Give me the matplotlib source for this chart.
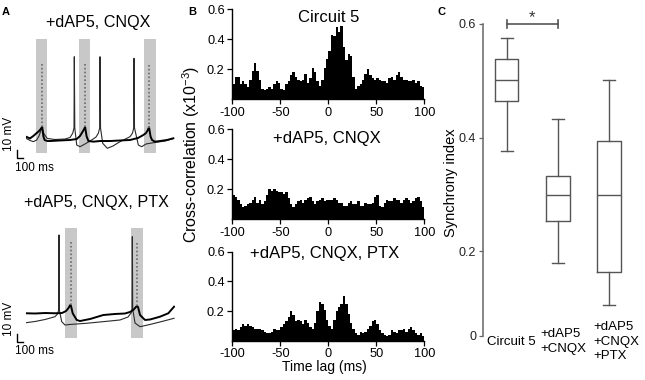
import numpy as np
import matplotlib
matplotlib.use('Agg')
import matplotlib.pyplot as plt
from matplotlib.transforms import ScaledTranslation

plt.rcParams['font.family'] = ['Liberation Sans', 'DejaVu Sans']
plt.rcParams['axes.unicode_minus'] = False
plt.rcParams['mathtext.fontset'] = 'custom'
plt.rcParams['mathtext.rm'] = 'Liberation Sans'
plt.rcParams['mathtext.it'] = 'Liberation Sans:italic'
plt.rcParams['mathtext.bf'] = 'Liberation Sans:bold'

# ---------------- Panel A data: time (ms), membrane potential (mV) ----------------
a1_title = '+dAP5, CNQX'
a1_windows = [(167, 355), (878, 1067), (1972, 2162)]
a1_thick_t = [0, 67, 122, 178, 217, 245, 270, 278, 290, 310, 355, 400, 567, 733, 845, 900, 928,
              960, 985, 995, 1010, 1040, 1122, 1233, 1400, 1567, 1733, 1867, 1955, 2000, 2030,
              2050, 2060, 2075, 2100, 2150, 2233, 2350, 2455]
a1_thick_v = [-63.4, -65.5, -62.5, -58.8, -56.3, -53.8, -51.0, -56.0, -63.0, -67.5, -68.8, -68.8,
              -68.1, -67.5, -66.3, -62.5, -59.1, -55.0, -51.3, -56.0, -63.0, -68.8, -69.6, -68.8,
              -68.8, -68.1, -67.5, -65.0, -61.3, -58.8, -55.0, -51.5, -56.0, -63.0, -67.5, -69.6,
              -68.8, -67.5, -65.4]
a1_spike_t = [270, 985, 2050]
a1_spike_base = [-51, -51, -52]
a1_spike_peak = [30.4, 28.4, 26.3]
a1_thin_t = [0, 67, 122, 178, 217, 245, 267, 300, 355, 483, 650, 733, 778, 800, 805, 813, 845, 900,
             983, 1095, 1167, 1205, 1228, 1233, 1242, 1278, 1355, 1450, 1567, 1733, 1775, 1795,
             1800, 1808, 1872, 1928, 2000, 2067, 2150, 2317, 2455]
a1_thin_v = [-65.4, -68.1, -69.6, -67.5, -62.5, -56.3, -52.5, -60, -65.6, -66.9, -66.3, -64.4,
             -59.1, -52.5, 36.6, -52.5, -73.8, -75.9, -72.5, -67.5, -63.8, -59.1, -52.5, 36.6,
             -52.5, -71.6, -77.9, -75, -69.6, -63.4, -58.8, -52.5, 34.6, -52.5, -73.8, -75.9,
             -72.5, -71.6, -70.6, -68.8, -65.6]

a2_title = '+dAP5, CNQX, PTX'
a2_windows = [(650, 845), (1750, 1945)]
a2_thick_t = [0, 150, 317, 483, 600, 667, 705, 738, 750, 778, 845, 900, 1067, 1288, 1483, 1650,
              1733, 1788, 1847, 1867, 1900, 1983, 2067, 2233, 2372, 2467]
a2_thick_v = [-59.1, -59.4, -58.8, -59.1, -58.8, -56.3, -52.9, -48.8, -50, -59.1, -67.5, -68.8,
              -66.3, -61.3, -60, -59.4, -57.5, -55, -50, -51.3, -61.3, -67.5, -66.9, -63.4,
              -59.1, -50.9]
a2_spike_t = [745, 1855]
a2_spike_base = [-49, -50]
a2_spike_peak = [30.4, 30.4]
a2_thin_t = [0, 150, 317, 483, 525, 545, 550, 555, 595, 650, 733, 1012, 1233, 1567, 1700, 1750,
             1767, 1772, 1778, 1817, 1900, 2067, 2233, 2467]
a2_thin_v = [-70.9, -69.4, -66.9, -63.4, -60, -55, 38.8, -55, -69.6, -73.8, -73.1, -71.6, -70,
             -67.5, -63.8, -58.8, -53.8, 36.6, -53.8, -71.3, -75.9, -73.1, -70, -65.4]

scale_mv = 10
scale_ms = 100

# ---------------- Panel B data: cross-correlation (x10^-3), 2.5 ms bins ----------------
lag_min, lag_max, lag_bin = -100, 100, 2.5
b_titles = ['Circuit 5', '+dAP5, CNQX', '+dAP5, CNQX, PTX']
cc_circuit5 = [0.10, 0.15, 0.15, 0.10, 0.12, 0.10, 0.08, 0.13, 0.19, 0.24,
               0.19, 0.13, 0.07, 0.06, 0.07, 0.08, 0.07, 0.10, 0.12, 0.11,
               0.07, 0.06, 0.10, 0.12, 0.16, 0.18, 0.15, 0.13, 0.12, 0.13,
               0.17, 0.11, 0.14, 0.21, 0.18, 0.12, 0.09, 0.13, 0.21, 0.27,
               0.32, 0.43, 0.42, 0.48, 0.45, 0.49, 0.35, 0.26, 0.30, 0.29,
               0.15, 0.07, 0.09, 0.10, 0.13, 0.17, 0.20, 0.16, 0.14, 0.13,
               0.14, 0.13, 0.12, 0.12, 0.11, 0.14, 0.15, 0.13, 0.16, 0.18,
               0.15, 0.13, 0.13, 0.12, 0.12, 0.13, 0.11, 0.12, 0.09, 0.08]
cc_cnqx = [0.16, 0.15, 0.13, 0.10, 0.08, 0.09, 0.10, 0.11, 0.13, 0.15,
           0.11, 0.13, 0.10, 0.12, 0.16, 0.20, 0.19, 0.20, 0.19, 0.18,
           0.18, 0.17, 0.18, 0.14, 0.10, 0.08, 0.10, 0.12, 0.13, 0.11,
           0.13, 0.14, 0.15, 0.12, 0.10, 0.12, 0.13, 0.14, 0.12, 0.13,
           0.13, 0.13, 0.14, 0.13, 0.11, 0.11, 0.09, 0.09, 0.11, 0.12,
           0.10, 0.10, 0.12, 0.09, 0.09, 0.11, 0.10, 0.10, 0.11, 0.15,
           0.16, 0.09, 0.08, 0.11, 0.13, 0.12, 0.12, 0.14, 0.13, 0.13,
           0.11, 0.13, 0.14, 0.13, 0.11, 0.12, 0.14, 0.15, 0.12, 0.08]
cc_ptx = [0.07, 0.08, 0.07, 0.09, 0.11, 0.10, 0.11, 0.10, 0.09, 0.08,
          0.08, 0.08, 0.07, 0.06, 0.05, 0.05, 0.06, 0.08, 0.07, 0.07,
          0.09, 0.11, 0.13, 0.16, 0.20, 0.17, 0.13, 0.14, 0.13, 0.11,
          0.14, 0.12, 0.09, 0.08, 0.12, 0.20, 0.26, 0.25, 0.21, 0.14,
          0.10, 0.08, 0.14, 0.20, 0.23, 0.25, 0.30, 0.25, 0.18, 0.12,
          0.08, 0.05, 0.04, 0.06, 0.05, 0.06, 0.08, 0.10, 0.13, 0.14,
          0.11, 0.07, 0.05, 0.04, 0.03, 0.04, 0.07, 0.06, 0.05, 0.07,
          0.07, 0.08, 0.06, 0.08, 0.09, 0.07, 0.05, 0.04, 0.05, 0.03]
b_yticks = [0.2, 0.4, 0.6]
b_xticks = [-100, -50, 0, 50, 100]

# ---------------- Panel C data: synchrony index box statistics ----------------
c_groups = ['Circuit 5', '+dAP5\n+CNQX', '+dAP5\n+CNQX\n+PTX']
c_whislo = [0.376, 0.179, 0.105]
c_q1 = [0.465, 0.254, 0.163]
c_med = [0.502, 0.299, 0.299]
c_q3 = [0.539, 0.333, 0.395]
c_whishi = [0.575, 0.433, 0.502]
c_ytick_vals = [0.051, 0.2, 0.4, 0.6]
c_ytick_labels = ['0', '0.2', '0.4', '0.6']

# ---------------- Figure ----------------
W, H = 645, 380
fig = plt.figure(figsize=(W / 100, H / 100), dpi=100)


def px_axes(x0, y0, x1, y1):
    return fig.add_axes([x0 / W, 1 - y1 / H, (x1 - x0) / W, (y1 - y0) / H])


def ftext(x, y, s, **kw):
    return fig.text(x / W, 1 - y / H, s, **kw)


# ---- Panel A ----
GRAY = '#c8c8c8'


def draw_trace(ax, windows, thin_t, thin_v, thick_t, thick_v, sp_t, sp_b, sp_p, bar_y):
    for s, e in windows:
        ax.axvspan(s, e, color=GRAY, lw=0, zorder=0)
    ax.plot(thin_t, thin_v, color='#2a2a2a', lw=0.8, zorder=2)
    ax.plot(thick_t, thick_v, color='black', lw=1.4, zorder=3, solid_joinstyle='round')
    ax.vlines(sp_t, sp_b, sp_p, colors='#6a6a6a', lw=1.2, linestyles=(0, (1, 1.3)), zorder=3)
    ax.set_xlim(0, 2483)
    ax.axis('off')
    # scale bar
    x0 = -155
    ax.plot([x0, x0, x0 + scale_ms], [bar_y + scale_mv, bar_y, bar_y], color='black', lw=1,
            clip_on=False)


axA1 = px_axes(26, 39.3, 175, 152.7)
axA1.set_ylim(-83.4, 58.4)
draw_trace(axA1, a1_windows, a1_thin_t, a1_thin_v, a1_thick_t, a1_thick_v,
           a1_spike_t, a1_spike_base, a1_spike_peak, -90)

axA2 = px_axes(26, 228.3, 175, 338.3)
axA2.set_ylim(-90.4, 47.1)
draw_trace(axA2, a2_windows, a2_thin_t, a2_thin_v, a2_thick_t, a2_thick_v,
           a2_spike_t, a2_spike_base, a2_spike_peak, -95.4)

ftext(98, 26.7, a1_title, fontsize=11.6, ha='center', va='baseline')
ftext(96, 206.7, a2_title, fontsize=11.6, ha='center', va='baseline')
ftext(9, 151, f'{scale_mv} mV', fontsize=8.5, rotation=90, ha='center', va='bottom')
ftext(15, 162.5, f'{scale_ms} ms', fontsize=8.5, ha='left', va='top')
ftext(9, 336, f'{scale_mv} mV', fontsize=8.5, rotation=90, ha='center', va='bottom')
ftext(15, 345, f'{scale_ms} ms', fontsize=8.5, ha='left', va='top')
ftext(2, 15, 'A', fontsize=8, fontweight='bold', ha='left', va='baseline')

# ---- Panel B ----
lag_edges = np.arange(lag_min, lag_max + lag_bin / 2, lag_bin)
b_boxes = [(9, 99), (129, 219.3), (251.7, 340.7)]
b_title_pos = [(328.5, 21.7), (326.5, 142.7), (325, 258.3)]
for (yt, yb), vals, title, (tx, ty) in zip(b_boxes, [cc_circuit5, cc_cnqx, cc_ptx], b_titles,
                                            b_title_pos):
    ax = px_axes(232.3, yt, 424.3, yb)
    ax.stairs(vals, lag_edges, fill=True, color='black', lw=0)
    ax.set_xlim(lag_min, lag_max)
    ax.set_ylim(0, 0.6)
    ax.set_yticks(b_yticks)
    ax.set_yticklabels([f'{v:.1f}' for v in b_yticks])
    ax.set_xticks(b_xticks)
    ax.set_xticklabels([str(v) for v in b_xticks])
    for s in ['top', 'right']:
        ax.spines[s].set_visible(False)
    for s in ['left', 'bottom']:
        ax.spines[s].set_linewidth(1.0)
    ax.tick_params(labelsize=9.2, length=3.5, width=0.9, pad=2)
    ftext(tx, ty, title, fontsize=12, ha='center', va='baseline')

ftext(191, 154, 'Cross-correlation (x10$^{-3}$)', fontsize=11.5, rotation=90,
      ha='center', va='center')
ftext(324, 367, 'Time lag (ms)', fontsize=10, ha='center', va='center')
ftext(188, 15, 'B', fontsize=8, fontweight='bold', ha='left', va='baseline')

# ---- Panel C ----
axC = px_axes(483, 24, 640, 336)
stats = [dict(med=m, q1=a, q3=b, whislo=lo, whishi=hi, label=g)
         for g, lo, a, m, b, hi in zip(c_groups, c_whislo, c_q1, c_med, c_q3, c_whishi)]
BC = '#555555'
axC.bxp(stats, positions=[1, 2, 3], widths=0.46, capwidths=0.23, showfliers=False,
        boxprops=dict(color=BC, lw=1), whiskerprops=dict(color=BC, lw=1),
        capprops=dict(color=BC, lw=1), medianprops=dict(color=BC, lw=1))
axC.set_xlim(0.537, 3.606)
axC.set_ylim(c_ytick_vals[0], c_ytick_vals[-1])
axC.set_yticks(c_ytick_vals)
axC.set_yticklabels(c_ytick_labels)
for s in ['top', 'right', 'bottom']:
    axC.spines[s].set_visible(False)
axC.spines['left'].set_color('#666666')
axC.spines['left'].set_linewidth(1.1)
axC.tick_params(axis='y', labelsize=9, length=3, width=0.9, color='#666666',
                labelcolor='#222222', pad=2)
axC.set_xticks([1, 2, 3])
axC.set_xticklabels(c_groups)
axC.tick_params(axis='x', length=0, labelsize=9.5, pad=4)
for lab, dx in zip(axC.get_xticklabels(), [4.3, 6, 7]):
    lab.set_verticalalignment('center')
    lab.set_multialignment('left')
    lab.set_linespacing(1.25)
    lab.set_transform(lab.get_transform() + ScaledTranslation(dx / 100, 0, fig.dpi_scale_trans))

# significance bar
axC.plot([1, 2], [0.6, 0.6], color=BC, lw=1.2, clip_on=False)
axC.plot([1, 1], [0.593, 0.607], color=BC, lw=1.2, clip_on=False)
axC.plot([2, 2], [0.593, 0.607], color=BC, lw=1.2, clip_on=False)
axC.text(1.5, 0.603, '*', fontsize=12, ha='center', va='baseline', color='#333333')

ftext(451.5, 182.5, 'Synchrony index', fontsize=10.5, rotation=90, ha='center', va='center')
ftext(438, 15, 'C', fontsize=8, fontweight='bold', ha='left', va='baseline')

fig.savefig('out.png', dpi=100)
